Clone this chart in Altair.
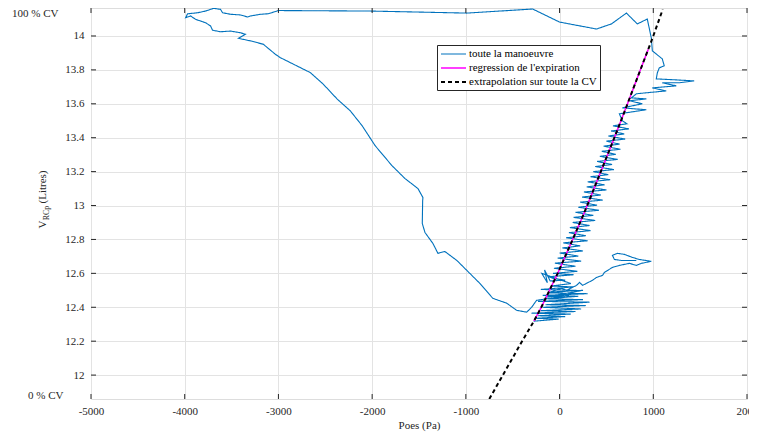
import altair as alt
import pandas as pd

FONT = "Liberation Serif, Times New Roman, Times, serif"
TXT = "#262626"

S_BLUE = "toute la manoeuvre"
S_FIT = "regression de l'expiration"
S_EXT = "extrapolation sur toute la CV"
series = [S_BLUE, S_FIT, S_EXT]

x_ticks = [-5000, -4000, -3000, -2000, -1000, 0, 1000, 2000]
y_ticks = [12, 12.2, 12.4, 12.6, 12.8, 13, 13.2, 13.4, 13.6, 13.8, 14]
vol_min = 11.859   # 0 % CV
vol_max = 14.165   # 100 % CV

# --- toute la manoeuvre : (Poes Pa, volume L), in path order ---
cluster_bas = [(-277, 12.318), (-10, 12.33), (-250, 12.335), (60, 12.345), (-230, 12.35),
               (120, 12.36), (-300, 12.365), (170, 12.375), (-200, 12.38), (230, 12.39),
               (-180, 12.40), (280, 12.41), (-150, 12.415), (320, 12.43), (-230, 12.435),
               (250, 12.445), (-140, 12.45), (200, 12.465), (-180, 12.47), (300, 12.48),
               (-120, 12.485), (180, 12.50), (-200, 12.505), (150, 12.52), (-90, 12.525),
               (120, 12.54), (-190, 12.60), (-130, 12.545), (-160, 12.62), (-100, 12.555),
               (60, 12.56), (-70, 12.57)]

zigzag = [(-110, 12.58), (150, 12.592), (-70, 12.60), (190, 12.612), (-60, 12.63), (170, 12.642),
          (-50, 12.66), (230, 12.672), (-20, 12.69), (200, 12.702), (0, 12.72), (250, 12.732),
          (30, 12.75), (220, 12.762), (40, 12.78), (300, 12.792), (70, 12.81), (280, 12.822),
          (100, 12.84), (330, 12.852), (110, 12.87), (320, 12.882), (140, 12.90), (380, 12.912),
          (150, 12.93), (360, 12.942), (170, 12.96), (420, 12.972), (200, 12.99), (400, 13.002),
          (220, 13.02), (460, 13.032), (240, 13.05), (440, 13.062), (260, 13.08), (500, 13.092),
          (290, 13.11), (480, 13.122), (300, 13.14), (540, 13.152), (330, 13.17), (520, 13.182),
          (360, 13.20), (580, 13.212), (380, 13.23), (560, 13.242), (400, 13.26), (620, 13.272),
          (430, 13.29), (600, 13.302), (450, 13.32), (650, 13.332), (470, 13.35), (640, 13.362),
          (500, 13.38), (700, 13.392), (520, 13.41), (690, 13.422), (550, 13.44), (740, 13.452),
          (570, 13.47), (720, 13.482)]

haut_droite = [(670, 13.50), (638, 13.541), (926, 13.565), (670, 13.576), (883, 13.60),
               (745, 13.618), (926, 13.629), (766, 13.635), (819, 13.659), (926, 13.665),
               (1138, 13.676), (990, 13.694), (1245, 13.706), (1096, 13.724), (1277, 13.724),
               (1436, 13.735), (1245, 13.741), (1032, 13.747), (1043, 13.782), (1064, 13.812),
               (1117, 13.824), (1096, 13.865), (990, 13.912), (979, 13.988), (936, 14.10),
               (830, 14.071), (713, 14.135), (553, 14.071), (394, 14.041), (0, 14.082),
               (-287, 14.159), (-990, 14.135), (-2022, 14.147), (-3000, 14.15)]

descente = [(-3107, 14.131), (-3192, 14.128), (-3298, 14.118), (-3330, 14.112), (-3405, 14.124),
            (-3511, 14.128), (-3596, 14.137), (-3618, 14.157), (-3692, 14.163), (-3777, 14.147),
            (-3862, 14.137), (-3969, 14.131), (-3990, 14.108), (-3937, 14.118), (-3884, 14.098),
            (-3830, 14.088), (-3777, 14.078), (-3724, 14.059), (-3703, 14.034), (-3618, 14.025),
            (-3511, 14.029), (-3405, 14.019), (-3352, 14.01), (-3426, 13.986), (-3298, 13.971),
            (-3160, 13.951), (-3118, 13.931), (-3032, 13.892), (-2979, 13.872), (-2841, 13.834),
            (-2660, 13.784), (-2522, 13.716), (-2373, 13.628), (-2234, 13.559), (-2107, 13.471),
            (-1968, 13.353), (-1788, 13.235), (-1649, 13.159), (-1511, 13.10), (-1458, 13.047),
            (-1461, 13.029), (-1465, 12.894), (-1436, 12.841), (-1351, 12.776), (-1298, 12.718),
            (-1224, 12.729), (-1096, 12.676), (-958, 12.60), (-851, 12.541), (-713, 12.453),
            (-564, 12.424), (-458, 12.382), (-351, 12.371), (-298, 12.40), (-245, 12.441)]

branche = [(100, 12.47), (-150, 12.46), (250, 12.50), (-100, 12.49), (21, 12.512), (74, 12.50),
           (181, 12.529), (213, 12.547), (245, 12.529), (287, 12.541), (351, 12.559),
           (394, 12.576), (458, 12.588), (479, 12.606), (564, 12.635), (638, 12.647),
           (745, 12.659), (819, 12.647), (872, 12.659), (979, 12.671), (851, 12.682),
           (777, 12.694), (692, 12.712), (617, 12.718), (564, 12.706), (585, 12.682),
           (660, 12.676), (819, 12.676)]

# --- regression de l'expiration ---
fit_poes = [-273, -195, -20, 140, 236, 295, 440, 585, 725, 862, 947]
fit_vol = [12.319, 12.4, 12.6, 12.8, 12.922, 13.0, 13.2, 13.4, 13.6, 13.8, 13.922]

# --- extrapolation sur toute la CV ---
ext_poes = [-750, -605, -400, -273, -195, -20, 140, 236, 295, 440, 585, 725, 862, 947, 1000, 1101]
ext_vol = [11.859, 12.0, 12.2, 12.319, 12.4, 12.6, 12.8, 12.922, 13.0, 13.2, 13.4, 13.6,
           13.8, 13.922, 14.0, 14.157]

W, H = 656, 391

rows = []
for seg in [cluster_bas, zigzag, haut_droite, descente, branche]:
    for p, v in seg:
        rows.append({"poes": p, "vol": v, "i": len(rows), "serie": S_BLUE})
blue_df = pd.DataFrame(rows)
fit_df = pd.DataFrame({"poes": fit_poes, "vol": fit_vol, "i": list(range(len(fit_poes))), "serie": S_FIT})
ext_df = pd.DataFrame({"poes": ext_poes, "vol": ext_vol, "i": list(range(len(ext_poes))), "serie": S_EXT})

x_scale = alt.Scale(domain=[-5000, 2000], nice=False, zero=False)
y_scale = alt.Scale(domain=[vol_min, vol_max], nice=False, zero=False)

x_axis = alt.Axis(values=x_ticks, title="Poes (Pa)", grid=True, gridColor="#e3e3e3", tickSize=0,
                  domain=False, labelFont=FONT, labelFontSize=11, labelColor=TXT, labelPadding=6,
                  labelOverlap=False, labelFlush=False,
                  labelExpr="datum.value + ''", titleFont=FONT, titleFontSize=11,
                  titleFontWeight="normal", titleColor=TXT, titlePadding=3)
y_axis = alt.Axis(values=y_ticks, title=None, grid=True, gridColor="#e3e3e3", tickSize=0,
                  domain=False, labelFont=FONT, labelFontSize=11, labelColor=TXT, labelPadding=7,
                  labelOverlap=False, labelFlush=False,
                  labelExpr="datum.value + ''")

X = alt.X("poes:Q", scale=x_scale, axis=x_axis)
Y = alt.Y("vol:Q", scale=y_scale, axis=y_axis)

legend = alt.Legend(orient="none", legendX=346, legendY=37, title=None, fillColor="white",
                    strokeColor=TXT, padding=3, labelFont=FONT, labelFontSize=11, labelColor="black",
                    symbolType="M-1,0H4", symbolSize=100, labelOffset=17, rowPadding=3)

color_scale = alt.Scale(domain=series, range=["#0072BD", "#FF00FF", "#000000"])
dash_scale = alt.Scale(domain=series, range=[[1, 0], [1, 0], [4, 3]])
width_scale = alt.Scale(domain=series, range=[1.1, 2.0, 1.2])


def line_layer(df):
    return alt.Chart(df).mark_line(clip=True).encode(
        x=X, y=Y,
        order="i:Q",
        color=alt.Color("serie:N", scale=color_scale, legend=legend),
        strokeDash=alt.StrokeDash("serie:N", scale=dash_scale, legend=legend),
        strokeWidth=alt.StrokeWidth("serie:N", scale=width_scale, legend=legend),
    )


xt = pd.DataFrame({"poes": x_ticks})
yt = pd.DataFrame({"vol": y_ticks})
tick_col = TXT
ticks = [
    alt.Chart(xt).mark_rule(color=tick_col).encode(x=X, y=alt.value(H), y2=alt.value(H - 5)),
    alt.Chart(xt).mark_rule(color=tick_col).encode(x=X, y=alt.value(0), y2=alt.value(5)),
    alt.Chart(yt).mark_rule(color=tick_col).encode(y=Y, x=alt.value(0), x2=alt.value(5)),
    alt.Chart(yt).mark_rule(color=tick_col).encode(y=Y, x=alt.value(W), x2=alt.value(W - 5)),
]

cv_labels = ["0 % CV", "100 % CV"]
cv_vols = [11.875, 14.13]
cv_df = pd.DataFrame({"lab": cv_labels, "vol": cv_vols})
cv0 = alt.Chart(cv_df.iloc[[0]]).mark_text(align="left", baseline="middle", font=FONT, fontSize=11, color=TXT).encode(
    text="lab:N", y=Y, x=alt.value(-63))
cv100 = alt.Chart(cv_df.iloc[[1]]).mark_text(align="left", baseline="middle", font=FONT, fontSize=11, color=TXT).encode(
    text="lab:N", y=Y, x=alt.value(-79))

title_df = pd.DataFrame({"t": ["V", "RCp", "(Litres)"]})
tV = alt.Chart(title_df.iloc[[0]]).mark_text(angle=270, align="center", baseline="middle", font=FONT, fontSize=11, color=TXT).encode(
    text="t:N", x=alt.value(-48.5), y=alt.value(216.5))
tR = alt.Chart(title_df.iloc[[1]]).mark_text(angle=270, align="center", baseline="middle", font=FONT, fontSize=8, color=TXT).encode(
    text="t:N", x=alt.value(-44.5), y=alt.value(205))
tL = alt.Chart(title_df.iloc[[2]]).mark_text(angle=270, align="center", baseline="middle", font=FONT, fontSize=11, color=TXT).encode(
    text="t:N", x=alt.value(-48.5), y=alt.value(179))

chart = alt.layer(
    line_layer(blue_df), line_layer(fit_df), line_layer(ext_df), *ticks, cv0, cv100, tV, tR, tL
).properties(
    width=W, height=H,
    padding={"left": 83, "top": 0, "right": 2, "bottom": 36},
    autosize=alt.AutoSizeParams(type="none"),
).configure_view(stroke=TXT, strokeWidth=1).configure(background="white", font=FONT)

chart.save("out.html", embed_options={"renderer": "svg", "actions": False})
